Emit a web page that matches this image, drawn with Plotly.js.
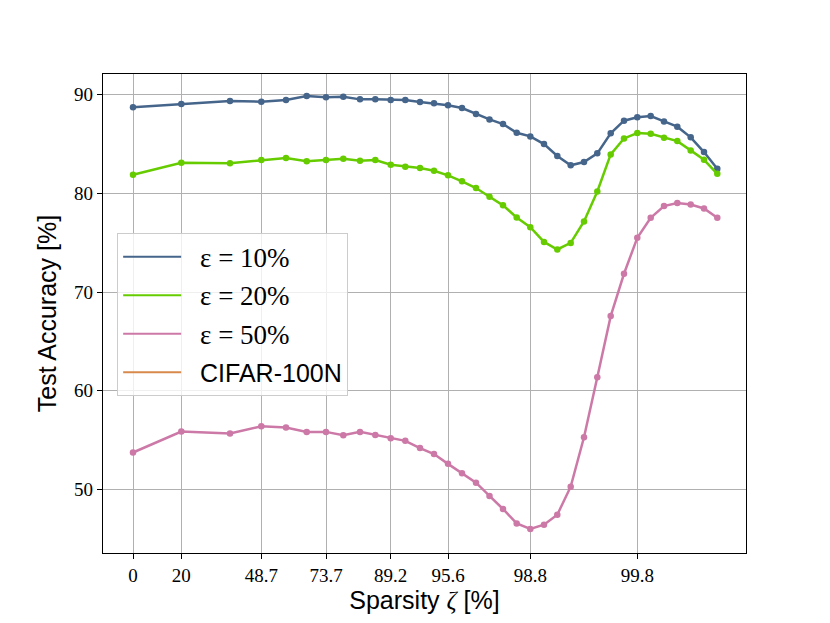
<!DOCTYPE html>
<html>
<head>
<meta charset="utf-8">
<script src="https://cdn.plot.ly/plotly-3.0.1.min.js"></script>
<style>
  body { margin: 0; background: #fff; }
  #chart { width: 830px; height: 623px; }
</style>
</head>
<body>
<div id="chart"></div>
<script>
// axis coordinate of each pruning round (the sparsity axis is not linear)
const xCoord = [0, 4.83, 9.7, 12.83, 15.3, 17.37, 19.3, 21.03, 22.7, 24.23, 25.77, 27.23, 28.7,
                30.1, 31.5, 32.9, 34.3, 35.65, 37.0, 38.37, 39.73, 41.1, 42.43, 43.77, 45.1,
                46.43, 47.77, 49.1, 50.43, 51.77, 53.1, 54.43, 55.77, 57.1, 58.43];

// tick labels on the sparsity axis and where they sit
const tickPos = [0, 4.83, 12.83, 19.3, 25.77, 31.5, 39.73, 50.43];
const tickText = ["0", "20", "48.7", "73.7", "89.2", "95.6", "98.8", "99.8"];

// test accuracy [%] per noise level
const acc10 = [88.72, 89.06, 89.36, 89.29, 89.46, 89.87, 89.74, 89.80, 89.53, 89.53, 89.46, 89.46,
               89.26, 89.13, 88.93, 88.65, 88.04, 87.50, 87.03, 86.15, 85.78, 85.0, 83.79, 82.85,
               83.18, 84.06, 86.09, 87.37, 87.71, 87.84, 87.30, 86.76, 85.68, 84.19, 82.5];
const acc20 = [81.89, 83.11, 83.05, 83.38, 83.59, 83.25, 83.38, 83.52, 83.31, 83.38, 82.91, 82.71,
               82.57, 82.30, 81.83, 81.23, 80.55, 79.67, 78.79, 77.57, 76.58, 75.09, 74.32, 74.99,
               77.16, 80.20, 83.95, 85.57, 86.11, 86.04, 85.64, 85.30, 84.36, 83.41, 81.99];
const acc50 = [53.75, 55.88, 55.67, 56.41, 56.28, 55.84, 55.84, 55.5, 55.84, 55.53, 55.2, 54.93,
               54.2, 53.6, 52.6, 51.65, 50.7, 49.35, 48.03, 46.57, 46.0, 46.44, 47.45, 50.29,
               55.3, 61.38, 67.57, 71.86, 75.51, 77.53, 78.72, 79.02, 78.88, 78.48, 77.53];

const names = ["ε\u00a0=\u00a010%", "ε\u00a0=\u00a020%", "ε\u00a0=\u00a050%", "CIFAR-100N"];
const colors = ["#46658b", "#66cc00", "#cc79a7", "#d88a4c"];
const series = [acc10, acc20, acc50];

const serif = "'Liberation Serif', 'DejaVu Serif', serif";
const sans = "'Liberation Sans', Arial, sans-serif";

let data = [];
series.forEach((ys, i) => {
    data.push({
        x: xCoord,
        y: ys,
        type: "scatter",
        mode: "lines+markers",
        line: {color: colors[i], width: 2.5},
        marker: {color: colors[i], size: 6.5},
        showlegend: false,
        hoverinfo: "skip"
    });
});

// legend entries (lines only, like the original)
names.forEach((n, i) => {
    let label = i < 3 ? '<span style="font-family:' + serif + ';font-size:27px">' + n + '</span>' : n;
    data.push({
        x: [null],
        y: [null],
        type: "scatter",
        mode: "lines",
        name: "\u00a0\u00a0" + label,
        legendgroup: "g" + i,
        line: {color: colors[i], width: 2}
    });
});

let layout = {
    width: 830,
    height: 623,
    margin: {l: 103, r: 84, t: 74, b: 70},
    paper_bgcolor: "#fff",
    plot_bgcolor: "#fff",
    font: {family: sans, color: "#000"},
    xaxis: {
        range: [-3.0, 61.3],
        tickmode: "array",
        tickvals: tickPos,
        ticktext: tickText,
        tickfont: {family: serif, size: 19},
        ticks: "outside",
        ticklen: 5,
        tickcolor: "#000",
        showgrid: true,
        gridcolor: "#b0b0b0",
        gridwidth: 1.2,
        showline: true,
        linecolor: "#000",
        linewidth: 1.2,
        mirror: true,
        zeroline: false,
        title: {text: 'Sparsity <span style="font-family:' + serif + '"><i>ζ</i></span> [%]', font: {size: 25}, standoff: 6}
    },
    yaxis: {
        range: [43.57, 92.1],
        tickvals: [50, 60, 70, 80, 90],
        tickfont: {family: serif, size: 19},
        ticks: "outside",
        ticklen: 5,
        tickcolor: "#000",
        showgrid: true,
        gridcolor: "#b0b0b0",
        gridwidth: 1.2,
        showline: true,
        linecolor: "#000",
        linewidth: 1.2,
        mirror: true,
        zeroline: false,
        title: {text: "Test Accuracy [%]", font: {size: 25}, standoff: 10}
    },
    legend: {
        x: 0.022,
        y: 0.668,
        xanchor: "left",
        yanchor: "top",
        bgcolor: "rgba(255,255,255,0.8)",
        bordercolor: "#cccccc",
        borderwidth: 1,
        font: {size: 25, color: "#000"},
        itemwidth: 58,
        traceorder: "grouped",
        tracegroupgap: 3
    }
};

Plotly.newPlot("chart", data, layout, {displayModeBar: false});
</script>
</body>
</html>
